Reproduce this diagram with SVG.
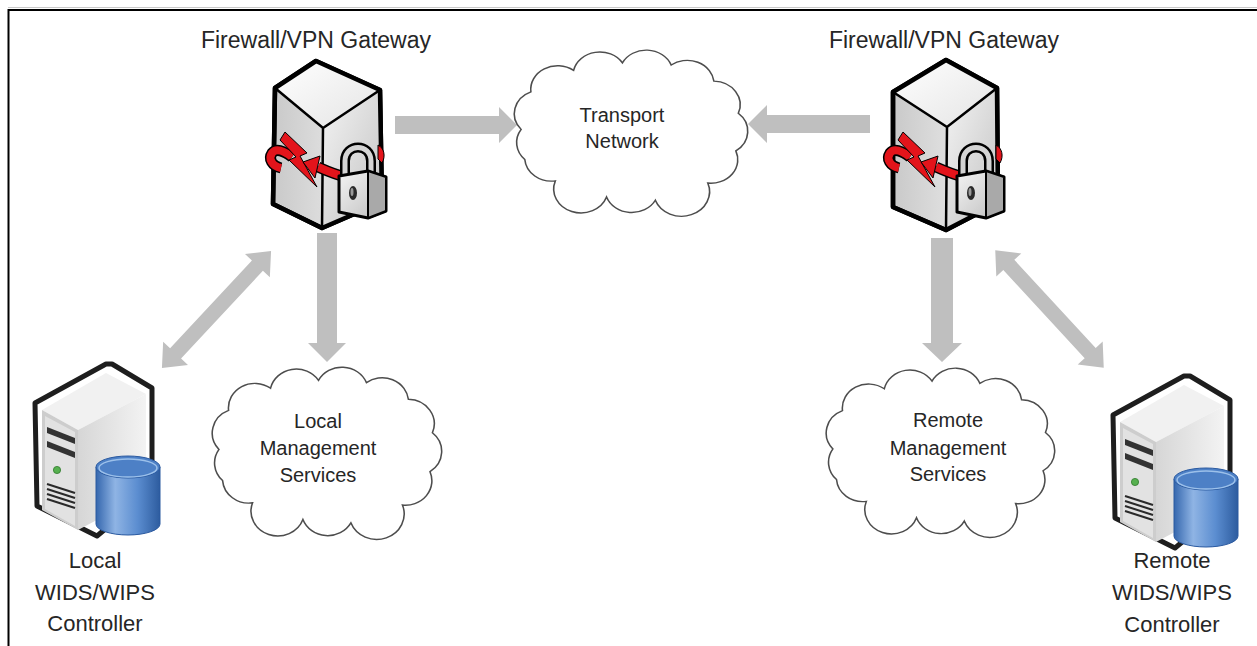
<svg xmlns="http://www.w3.org/2000/svg" width="1257" height="646" viewBox="0 0 1257 646">
<style>
.arrow{fill:#bfbfbf}
.cloud{fill:#fff;stroke:#4d4d4d;stroke-width:1.3;vector-effect:non-scaling-stroke}
.lbl{font-family:"Liberation Sans",Arial,sans-serif;fill:#262626;text-anchor:middle}
.t23{font-size:23px}.t22{font-size:22px}.t20{font-size:20px}
.fwo{stroke:#000;stroke-width:4.5;stroke-linejoin:round}
.fwe{stroke:#000;stroke-width:2.5;fill:none;stroke-linecap:round}
.red{fill:#e3141b;stroke:#000;stroke-width:1;stroke-linejoin:round}
.bandK{fill:none;stroke:#000;stroke-width:11;stroke-linecap:butt}
.bandR{fill:none;stroke:#e3141b;stroke-width:8;stroke-linecap:butt}
</style>
<defs>
<linearGradient id="gLeft" x1="0" y1="0" x2="1" y2="0"><stop offset="0" stop-color="#c9c9c9"/><stop offset="1" stop-color="#f4f4f4"/></linearGradient>
<linearGradient id="gRight" x1="0" y1="0" x2="1" y2="1"><stop offset="0" stop-color="#f4f4f4"/><stop offset="1" stop-color="#c2c2c2"/></linearGradient>
<linearGradient id="gTop" x1="0" y1="0" x2="1" y2="1"><stop offset="0" stop-color="#ffffff"/><stop offset="1" stop-color="#e4e4e4"/></linearGradient>
<linearGradient id="gLock" x1="0" y1="0" x2="1" y2="1"><stop offset="0" stop-color="#f4f4f4"/><stop offset="1" stop-color="#bdbdbd"/></linearGradient>
<linearGradient id="gSide" x1="0" y1="0" x2="1" y2="0"><stop offset="0" stop-color="#d6d6d6"/><stop offset="1" stop-color="#f3f3f3"/></linearGradient>
<linearGradient id="gCyl" x1="0" y1="0" x2="1" y2="0"><stop offset="0" stop-color="#3567ae"/><stop offset="0.3" stop-color="#8fb4e4"/><stop offset="0.65" stop-color="#5b8dd0"/><stop offset="1" stop-color="#2d5c9f"/></linearGradient>
<path id="cloudShape" d="M12,70 A22,22 0 0 1 20,35 A22,22 0 0 1 55,15 A22,22 0 0 1 95,8 A22,22 0 0 1 135,10 A22,22 0 0 1 170,25 A22,22 0 0 1 190,55 A22,22 0 0 1 188,90 A22,22 0 0 1 165,120 A22,22 0 0 1 122,136 A22,22 0 0 1 82,133 A22,22 0 0 1 40,118 A22,22 0 0 1 15,98 A22,22 0 0 1 12,70 Z"/>
<g id="fwDecor">
<path class="bandK" d="M292,157 C284,151 276,148 272,153 C268,159 272,166 281,168"/>
<path class="bandR" d="M292,157 C284,151 276,148 272,153 C268,159 272,166 281,168"/>
<polygon class="red" points="285,132 307,153 300,156 317,187 289,160 296,157 280,140"/>
<path class="bandK" d="M346,177 C336,175 327,171 318,167"/>
<path class="bandR" d="M346,177 C336,175 327,171 318,167"/>
<polygon class="red" points="320,156 303,162 315,178"/>
<path class="red" d="M378,145 C384,148 386,156 382,163 L378,159 Z"/>
<path d="M345,178 L345,161 C345,143 371,143 371,161 L371,178" fill="none" stroke="#000" stroke-width="10" stroke-linejoin="round"/>
<path d="M345,178 L345,161 C345,143 371,143 371,161 L371,178" fill="none" stroke="#d4d4d4" stroke-width="5"/>
<path d="M339,176 L368,171 L386,177 L386,211 L368,218 L339,212 Z" fill="url(#gLock)" stroke="#000" stroke-width="3" stroke-linejoin="round"/>
<path d="M368,171 L386,177 L386,211 L368,218 Z" fill="#a9a9a9" stroke="#000" stroke-width="2" stroke-linejoin="round"/>
<ellipse cx="353" cy="193" rx="4" ry="7" fill="#2a2a2a"/>
<ellipse cx="352" cy="192" rx="1.5" ry="4" fill="#9a9a9a"/>
</g>
<g id="serverIcon">
<path d="M35,403 L106,364 L112,364 L152,388 L152,490 L97,536 L37,506 Z" fill="#fff" stroke="#1e1e1e" stroke-width="5" stroke-linejoin="round"/>
<polygon points="42,410 106,373 146,394 78,430" fill="#f1f1f1"/>
<polygon points="78,430 146,394 146,494 78,530" fill="url(#gSide)"/>
<polygon points="42,410 78,430 78,530 42,510" fill="#cdcdcd"/>
<polygon points="45,416 75,432 75,526 45,509" fill="#e2e2e2"/>
<polygon points="47,427 75,438 75,444 47,433" fill="#333"/>
<polygon points="47,441 75,452 75,458 47,447" fill="#333"/>
<circle cx="57" cy="470" r="3.6" fill="#56b04f" stroke="#2f7a2b" stroke-width="0.8"/>
<g stroke="#2a2a2a" stroke-width="2"><line x1="47" y1="484" x2="75" y2="493"/><line x1="47" y1="489" x2="75" y2="498"/><line x1="47" y1="494" x2="75" y2="503"/><line x1="47" y1="499" x2="75" y2="508"/></g>
<path d="M96,467 L96,524 A32,11 0 0 0 160,524 L160,467 Z" fill="url(#gCyl)" stroke="#2b5aa0" stroke-width="1"/>
<ellipse cx="128" cy="467" rx="32" ry="11" fill="#4d80c6" stroke="#2b5aa0" stroke-width="1"/>
<ellipse cx="128" cy="468" rx="29" ry="9" fill="none" stroke="#9cc0ea" stroke-width="1.5"/>
</g>
</defs>

<g id="frame">
<line x1="8" y1="7.5" x2="1257" y2="7.5" stroke="#c8c8c8" stroke-width="1"/>
<polyline points="8.5,646 8.5,10 1257,10" fill="none" stroke="#000" stroke-width="2"/>
</g>

<g id="connectors">
<polygon class="arrow" points="395,116 499,116 499,107 517,125 499,143 499,134 395,134"/>
<polygon class="arrow" points="870,115 767,115 767,105 748,124 767,143 767,133 870,133"/>
<polygon class="arrow" points="317,233 337,233 337,343 346,343 327,362 308,343 317,343"/>
<polygon class="arrow" points="931,238 953,238 953,343 962,343 942,362 922,343 931,343"/>
<polygon class="arrow" transform="translate(216.5,309.5) rotate(-47)" points="-80,0 -60,-17 -60,-7.5 60,-7.5 60,-17 80,0 60,17 60,7.5 -60,7.5 -60,17"/>
<polygon class="arrow" transform="translate(1049.5,309) rotate(47.3)" points="-80,0 -60,-17 -60,-7.5 60,-7.5 60,-17 80,0 60,17 60,7.5 -60,7.5 -60,17"/>
</g>

<g id="fw-local">
<path class="fwo" d="M316,61 L380,90 L382,202 L322,228 L273,204 L275,88 Z" fill="url(#gLeft)"/>
<polygon points="316,61 380,90 323,128 275,88" fill="url(#gTop)"/>
<polygon points="323,128 380,90 382,202 322,228" fill="url(#gRight)"/>
<path class="fwe" d="M275,88 L323,128 L380,90 M323,128 L322,228"/>
<path class="fwo" d="M316,61 L380,90 L382,202 L322,228 L273,204 L275,88 Z" fill="none"/>
<use href="#fwDecor"/>
<text class="lbl t23" x="316" y="48">Firewall/VPN Gateway</text>
</g>

<g id="fw-remote">
<path class="fwo" d="M946,60 L997,88 L998,203 L946,230 L893,207 L893,92 Z" fill="url(#gLeft)"/>
<polygon points="946,60 997,88 947,127 893,92" fill="url(#gTop)"/>
<polygon points="947,127 997,88 998,203 946,230" fill="url(#gRight)"/>
<path class="fwe" d="M893,92 L947,127 L997,88 M947,127 L946,230"/>
<path class="fwo" d="M946,60 L997,88 L998,203 L946,230 L893,207 L893,92 Z" fill="none"/>
<use href="#fwDecor" transform="translate(618,0)"/>
<text class="lbl t23" x="944" y="48">Firewall/VPN Gateway</text>
</g>

<g id="transport">
<use href="#cloudShape" class="cloud" transform="translate(506.5,54.3) scale(1.22,1.073)"/>
<text class="lbl t20" x="622" y="122">Transport</text>
<text class="lbl t20" x="622" y="148">Network</text>
</g>

<g id="local-mgmt">
<use href="#cloudShape" class="cloud" transform="translate(204.6,371.5) scale(1.199,1.113)"/>
<text class="lbl t20" x="318" y="428">Local</text>
<text class="lbl t20" x="318" y="455">Management</text>
<text class="lbl t20" x="318" y="482">Services</text>
</g>

<g id="remote-mgmt">
<use href="#cloudShape" class="cloud" transform="translate(818.6,372.4) scale(1.194,1.093)"/>
<text class="lbl t20" x="948" y="427">Remote</text>
<text class="lbl t20" x="948" y="455">Management</text>
<text class="lbl t20" x="948" y="481">Services</text>
</g>

<g id="local-controller">
<use href="#serverIcon"/>
<text class="lbl t22" x="95" y="568">Local</text>
<text class="lbl t22" x="95" y="600">WIDS/WIPS</text>
<text class="lbl t22" x="95" y="631">Controller</text>
</g>

<g id="remote-controller">
<use href="#serverIcon" transform="translate(1078,12)"/>
<text class="lbl t22" x="1172" y="568">Remote</text>
<text class="lbl t22" x="1172" y="600">WIDS/WIPS</text>
<text class="lbl t22" x="1172" y="632">Controller</text>
</g>
</svg>
